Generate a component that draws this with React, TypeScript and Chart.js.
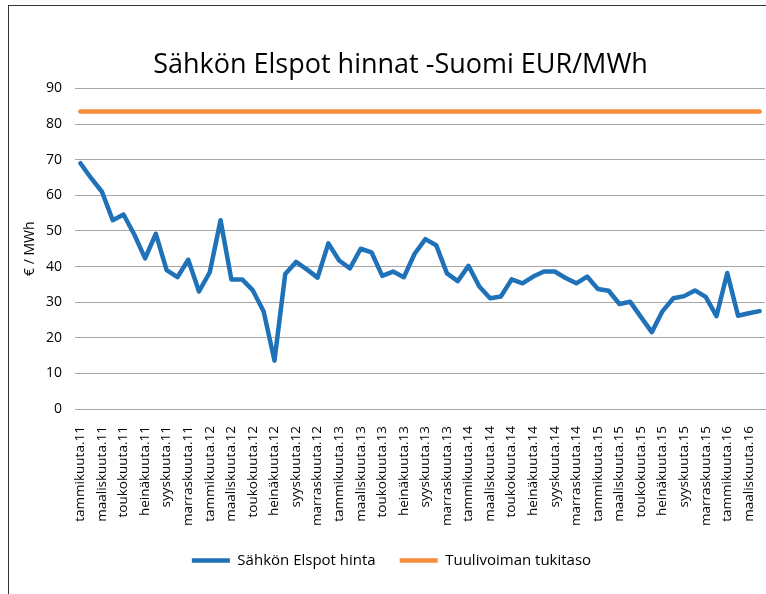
import React, { useEffect, useRef } from 'react';
import { Chart, registerables } from 'chart.js';

Chart.register(...registerables);

const monthNames = [
  'tammikuuta', 'helmikuuta', 'maaliskuuta', 'huhtikuuta', 'toukokuuta', 'kesäkuuta',
  'heinäkuuta', 'elokuuta', 'syyskuuta', 'lokakuuta', 'marraskuuta', 'joulukuuta',
];
const years = ['11', '12', '13', '14', '15', '16'];
const lastYearMonths = 4;

const categories: string[] = [];
years.forEach((yr, yi) => {
  const n = yi === years.length - 1 ? lastYearMonths : 12;
  for (let m = 0; m < n; m++) categories.push(monthNames[m] + '.' + yr);
});

const spotPrice = [
  69, 64.8, 61, 53, 54.6, 49, 42.3, 49.2, 39, 37, 41.9, 33,
  38.4, 53, 36.4, 36.4, 33.3, 27.4, 13.6, 37.9, 41.3, 39.2, 36.9, 46.5,
  41.7, 39.5, 45, 44, 37.4, 38.6, 37, 43.6, 47.7, 46, 38.1, 35.9,
  40.2, 34.4, 31.1, 31.6, 36.4, 35.3, 37.2, 38.6, 38.6, 36.8, 35.3, 37.2,
  33.7, 33.2, 29.5, 30.1, 25.8, 21.6, 27.5, 31.1, 31.7, 33.3, 31.5, 26.1,
  38.2, 26.2, 26.9, 27.5,
];
const windTariff = 83.5;
const windSeries = categories.map(() => windTariff);

const titleText = 'Sähkön Elspot hinnat -Suomi EUR/MWh';
const yTitle = '€ / MWh';
const seriesNames = ['Sähkön Elspot hinta', 'Tuulivoiman tukitaso'];

const FONT = '"Open Sans", "Noto Sans", sans-serif';

const shiftTitle = {
  id: 'shiftTitle',
  afterLayout(chart: any) {
    const t = chart.titleBlock;
    if (t) {
      t.left += 9;
      t.right += 9;
    }
  },
};

export default function App() {
  const ref = useRef<HTMLCanvasElement | null>(null);
  useEffect(() => {
    if (!ref.current) return;
    const chart = new Chart(ref.current, {
      type: 'line',
      plugins: [shiftTitle],
      data: {
        labels: categories,
        datasets: [
          {
            label: seriesNames[0],
            data: spotPrice,
            borderColor: '#1f71b8',
            backgroundColor: '#1f71b8',
            borderWidth: 4.5,
            pointRadius: 0,
            borderCapStyle: 'round',
            borderJoinStyle: 'round',
            tension: 0,
          },
          {
            label: seriesNames[1],
            data: windSeries,
            borderColor: '#f58b3b',
            backgroundColor: '#f58b3b',
            borderWidth: 4.5,
            pointRadius: 0,
            borderCapStyle: 'round',
            borderJoinStyle: 'round',
          },
        ],
      },
      options: {
        responsive: false,
        animation: false,
        layout: { padding: { left: 18, right: 1, top: 49, bottom: 16 } },
        plugins: {
          title: {
            display: true,
            text: titleText,
            color: '#000',
            font: { family: FONT, size: 27, weight: 'normal' },
            padding: { top: 0, bottom: 7 },
          },
          legend: {
            position: 'bottom',
            labels: {
              usePointStyle: true,
              pointStyle: 'line',
              pointStyleWidth: 38,
              color: '#000',
              font: { family: FONT, size: 15 },
              padding: 24,
            },
          },
          tooltip: { enabled: false },
        },
        scales: {
          x: {
            offset: true,
            grid: { display: false },
            border: { color: '#a6a6a6' },
            afterFit: (axis: any) => {
              axis.paddingLeft = 0;
              axis.paddingRight = 0;
              axis.height = axis.height - 6;
            },
            ticks: {
              autoSkip: false,
              maxRotation: 90,
              minRotation: 90,
              padding: 9,
              color: '#000',
              font: { family: FONT, size: 13.5 },
              callback: (_v: any, i: number) => (i % 2 === 0 ? categories[i] : ''),
            },
          },
          y: {
            min: 0,
            max: 90,
            afterFit: (axis: any) => {
              axis.width = 57;
            },
            ticks: { stepSize: 10, color: '#000', font: { family: FONT, size: 14 }, padding: 13 },
            grid: { color: '#a6a6a6', drawTicks: false },
            border: { display: false },
            title: { display: true, text: yTitle, color: '#000', font: { family: FONT, size: 14 } },
          },
        },
      },
    });
    return () => chart.destroy();
  }, []);
  return (
    <div style={{ position: 'fixed', left: 0, top: 0, width: 766, height: 594, background: '#fff' }}>
      <div
        style={{
          position: 'absolute', left: 8, top: 5, right: 0, bottom: 0,
          borderTop: '1px solid #333', borderLeft: '1px solid #333',
        }}
      />
      <canvas ref={ref} width={766} height={594} style={{ position: 'absolute', left: 0, top: 0 }} />
    </div>
  );
}
